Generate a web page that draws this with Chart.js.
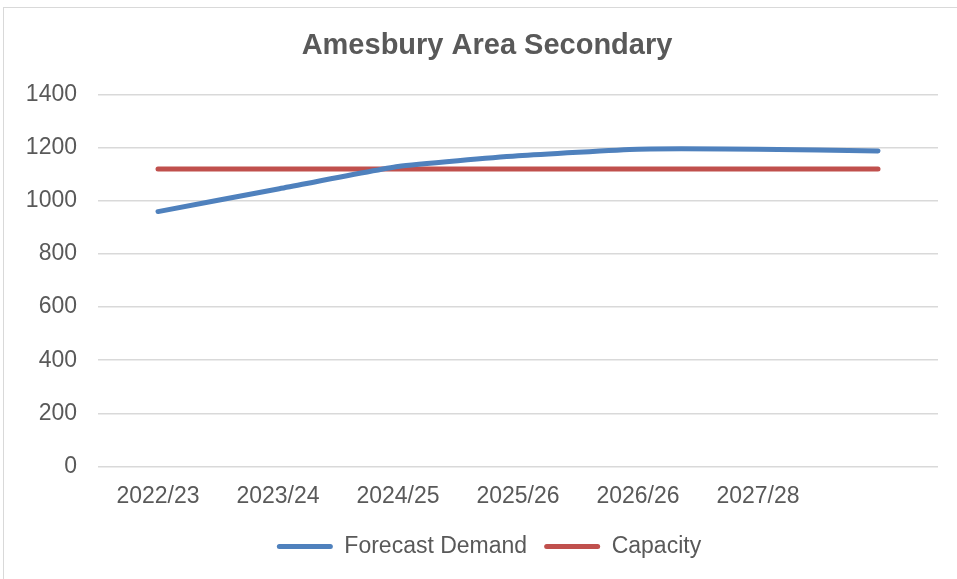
<!DOCTYPE html>
<html>
<head>
<meta charset="utf-8">
<script src="https://cdn.jsdelivr.net/npm/chart.js@4.4.0/dist/chart.umd.min.js"></script>
<style>
  html, body { margin: 0; padding: 0; background: #ffffff; }
  #frame { position: absolute; left: 3px; top: 7px; width: 970px; height: 590px; border: 1px solid #d9d9d9; box-sizing: border-box; }
  #wrap { position: absolute; left: 0; top: 0; width: 957px; height: 579px; }
</style>
</head>
<body>
<div id="frame"></div>
<div id="wrap"><canvas id="c" width="957" height="579"></canvas></div>
<script>
const categories = ["2022/23", "2023/24", "2024/25", "2025/26", "2026/26", "2027/28", ""];
const forecastDemand = [960, 1045, 1130, 1170, 1195, 1195, 1188];
const capacity = [1120, 1120, 1120, 1120, 1120, 1120, 1120];
const yTicks = [0, 200, 400, 600, 800, 1000, 1200, 1400];

const textColor = "#595959";
const fontFamily = "'Liberation Sans', Arial, sans-serif";

const shiftBlocks = {
  id: "shiftBlocks",
  afterLayout(chart) {
    if (chart.titleBlock) chart.titleBlock.left += 16;
    if (chart.legend) chart.legend.left += 20;
  }
};

new Chart(document.getElementById("c"), {
  type: "line",
  data: {
    labels: categories,
    datasets: [
      { label: "Forecast Demand", data: forecastDemand, borderColor: "#4f81bd", backgroundColor: "#4f81bd",
        borderWidth: 5, borderCapStyle: "round", borderJoinStyle: "round", pointRadius: 0, tension: 0.15 },
      { label: "Capacity", data: capacity, borderColor: "#c0504d", backgroundColor: "#c0504d",
        borderWidth: 5, borderCapStyle: "round", pointRadius: 0, tension: 0 }
    ]
  },
  plugins: [shiftBlocks],
  options: {
    responsive: false,
    animation: false,
    devicePixelRatio: 1,
    layout: { padding: { left: 20, right: 19, top: 22, bottom: 11 } },
    plugins: {
      title: { display: true, text: "Amesbury Area Secondary", color: textColor,
        font: { family: fontFamily, size: 29, weight: "bold" }, padding: { top: 7, bottom: 31 } },
      legend: { position: "bottom",
        labels: { color: textColor, font: { family: fontFamily, size: 23 }, boxWidth: 56, boxHeight: 5,
          useBorderRadius: true, borderRadius: 2.5, padding: 17,
          generateLabels: (chart) => chart.data.datasets.map((ds, i) => ({
            text: ds.label, fillStyle: ds.borderColor, strokeStyle: ds.borderColor, lineWidth: 0,
            fontColor: textColor, datasetIndex: i, hidden: false, borderRadius: 2.5 })) } },
      tooltip: { enabled: false }
    },
    scales: {
      x: {
        offset: true,
        grid: { display: false }, border: { display: false },
        ticks: { color: textColor, font: { family: fontFamily, size: 23 }, padding: 8, maxRotation: 0, autoSkip: false }
      },
      y: {
        min: 0, max: 1400,
        afterBuildTicks: (s) => { s.ticks = yTicks.map(v => ({ value: v })); },
        afterFit: (s) => { s.width = 78; },
        grid: { color: "#d9d9d9", lineWidth: 1.5, drawTicks: false }, border: { display: false },
        ticks: { color: textColor, font: { family: fontFamily, size: 23 }, padding: 21,
          callback: (v) => String(v) }
      }
    }
  }
});
</script>
</body>
</html>
